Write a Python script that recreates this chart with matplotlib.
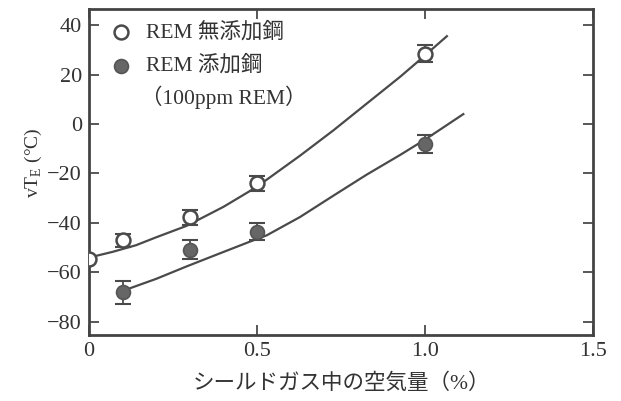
import matplotlib
matplotlib.use('Agg')
import matplotlib.pyplot as plt

plt.rcParams['font.family'] = ['Liberation Serif', 'Noto Sans CJK JP', 'DejaVu Sans']
plt.rcParams['mathtext.fontset'] = 'custom'
plt.rcParams['mathtext.rm'] = 'Liberation Serif'

# measured points: REM free steel (open) and REM added steel (filled)
x_open = [0, 0.1, 0.3, 0.5, 1.0]
y_open = [-54.5, -47, -37.7, -24, 28.4]
err_open = [0, 2.7, 3.0, 3.1, 3.5]

x_fill = [0.1, 0.3, 0.5, 1.0]
y_fill = [-68, -50.8, -43.5, -8]
err_fill = [4.7, 3.9, 3.4, 3.7]

# fitted curves
curve_open_x = [0, 0.07, 0.14, 0.2, 0.29, 0.4, 0.48, 0.529, 0.628, 0.727, 0.826, 0.926, 0.975, 1.065]
curve_open_y = [-54, -51.7, -49, -45.8, -41.2, -33.5, -27, -22.5, -12.8, -2.6, 8.2, 19.1, 24.8, 35.5]
curve_fill_x = [0.12, 0.2, 0.29, 0.38, 0.48, 0.529, 0.628, 0.727, 0.826, 0.926, 1.0, 1.114]
curve_fill_y = [-66.5, -62.6, -57.6, -52.8, -47.5, -45, -37.6, -29, -20.5, -12.5, -6.3, 4]

xticks = [0, 0.5, 1.0, 1.5]
xtick_labels = ['0', '0.5', '1.0', '1.5']
yticks = [40, 20, 0, -20, -40, -60, -80]

c = '#4a4a4a'
fig = plt.figure(figsize=(6.21, 4.01), dpi=100)
ax = fig.add_axes([0.1433, 0.1646, 0.8117, 0.813])

ax.plot(curve_open_x, curve_open_y, color=c, lw=1.6, zorder=2)
ax.plot(curve_fill_x, curve_fill_y, color=c, lw=1.6, zorder=2)

ax.errorbar(x_open, y_open, yerr=err_open, fmt='none', ecolor=c, elinewidth=1.3,
            capsize=6, capthick=1.5, zorder=3)
ax.errorbar(x_fill, y_fill, yerr=err_fill, fmt='none', ecolor=c, elinewidth=1.3,
            capsize=6, capthick=1.5, zorder=3)
ax.plot(x_open, y_open, 'o', ms=10, mfc='white', mec=c, mew=1.8, zorder=4)
ax.plot(x_fill, y_fill, 'o', ms=10, mfc='#666666', mec='#555555', mew=1.2, zorder=4)

ax.set_xlim(0, 1.5)
ax.set_ylim(-85.3, 46.5)
ax.set_xticks(xticks)
ax.set_xticklabels(xtick_labels, fontsize=16, color='#333333')
ax.set_yticks(yticks)
ax.set_yticklabels(['40', '20', '0', '\u221220', '\u221240', '\u221260', '\u221280'],
                   fontsize=16, color='#333333')
ax.tick_params(direction='in', length=7, width=1.3, color=c, top=True, right=True, pad=5)
for s in ax.spines.values():
    s.set_linewidth(2)
    s.set_color('#444444')

ax.set_xlabel('シールドガス中の空気量（%）', fontsize=15.5, color='#333333', labelpad=9)
ax.set_ylabel('vT$_\\mathrm{E}$ (°C)', fontsize=14, color='#333333')
ax.yaxis.set_label_coords(-0.09, 0.53)

# legend drawn by hand like the original
ax.plot([0.095], [37], 'o', ms=10, mfc='white', mec=c, mew=1.8, clip_on=False)
ax.plot([0.095], [23.5], 'o', ms=10, mfc='#666666', mec='#555555', mew=1.2, clip_on=False)
ax.text(0.17, 37, 'REM 無添加鋼', fontsize=15.5, va='center', color='#333333')
ax.text(0.17, 23.5, 'REM 添加鋼', fontsize=15.5, va='center', color='#333333')
ax.text(0.155, 11, '（100ppm REM）', fontsize=15.5, va='center', color='#333333')

fig.savefig('out.png', dpi=100)
